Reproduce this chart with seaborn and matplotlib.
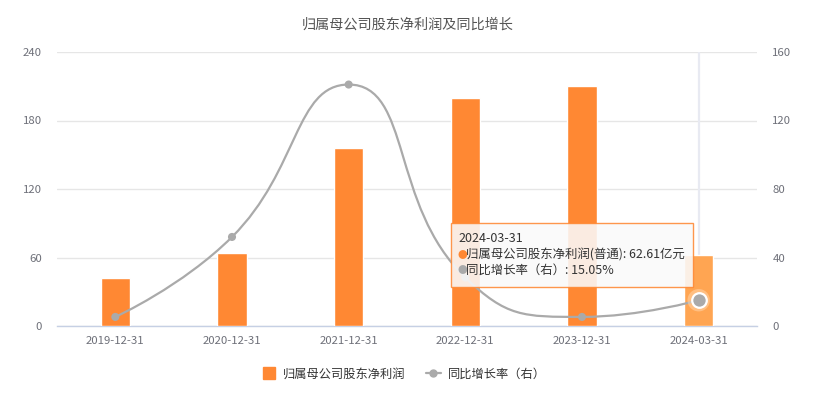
import numpy as np
import pandas as pd
import matplotlib
matplotlib.use('Agg')
import matplotlib.pyplot as plt
import seaborn as sns
from matplotlib.path import Path
from matplotlib.patches import PathPatch, FancyBboxPatch
from matplotlib.lines import Line2D

# datos
fechas = ['2019-12-31', '2020-12-31', '2021-12-31', '2022-12-31', '2023-12-31', '2024-03-31']
beneficio = [42.0, 64.0, 156.0, 200.0, 210.0, 62.61]   # 亿元
crecimiento = [5.3, 52.0, 141.0, 28.3, 5.3, 15.05]      # %
yl_ticks = [0, 60, 120, 180, 240]
yr_ticks = [0, 40, 80, 120, 160]

naranja = '#FF8833'
naranja_hover = '#FFA552'
gris = '#AAAAAA'
texto = '#6E7079'

sns.set_theme(style='white')
plt.rcParams['font.family'] = ['Noto Sans CJK SC', 'DejaVu Sans']
plt.rcParams['axes.unicode_minus'] = False

df = pd.DataFrame({'fecha': fechas, 'beneficio': beneficio, 'crecimiento': crecimiento})
colores = [naranja] * (len(fechas) - 1) + [naranja_hover]

fig = plt.figure(figsize=(8.15, 3.99), dpi=100)
ax = fig.add_axes([57 / 815, 1 - 326 / 399, 700 / 815, 274 / 399])

sns.barplot(data=df, x='fecha', y='beneficio', hue='fecha', palette=colores,
            width=0.25, legend=False, saturation=1, ax=ax, zorder=3)

ax.set_xlim(-0.5, len(fechas) - 0.5)
ax.set_ylim(0, 240)
ax.set_yticks(yl_ticks)
ax.set_xlabel('')
ax.set_ylabel('')
ax.grid(axis='y', color='#E6E6E6', linewidth=1, zorder=0)
ax.set_axisbelow(True)
for s in ['top', 'left', 'right']:
    ax.spines[s].set_visible(False)
ax.spines['bottom'].set_color('#C6D0E4')
ax.spines['bottom'].set_linewidth(1)
ax.tick_params(axis='y', length=0, pad=11, labelsize=8.2, labelcolor=texto)
ax.tick_params(axis='x', which='major', length=0, pad=7, labelsize=8.2, labelcolor=texto)
ax.set_xticks(np.arange(-0.5, len(fechas)), minor=True)
ax.tick_params(axis='x', which='minor', length=5, color='#C6D0E4', width=1)

# linea del tooltip (hover)
ax.axvline(len(fechas) - 1, color='#E8EAF2', linewidth=1.6, zorder=1)

# eje derecho: crecimiento
ax2 = ax.twinx()
ax2.set_ylim(0, 160)
ax2.set_yticks(yr_ticks)
for s in ax2.spines.values():
    s.set_visible(False)
ax2.tick_params(axis='y', length=0, pad=11, labelsize=8.2, labelcolor=texto)
ax2.grid(False)

# curva suavizada como la de echarts (smooth=0.5 con restriccion)
sx, sy = 116.67, 1.7125  # px por unidad
P = np.column_stack([np.arange(len(fechas)) * sx, np.array(crecimiento) * sy])
suave = 0.5
n = len(P)
verts = [tuple(P[0])]
codes = [Path.MOVETO]
cp0 = P[0].copy()
for i in range(1, n):
    x, y = P[i]
    px, py = P[i - 1]
    if i == n - 1:
        cp1 = P[i].copy()
        ncp0 = P[i].copy()
    else:
        nx, ny = P[i + 1]
        vx, vy = nx - px, ny - py
        l0 = np.hypot(x - px, y - py)
        l1 = np.hypot(nx - x, ny - y)
        r = l1 / (l0 + l1)
        ncx, ncy = x + vx * suave * r, y + vy * suave * r
        ncx = max(min(ncx, max(nx, x)), min(nx, x))
        ncy = max(min(ncy, max(ny, y)), min(ny, y))
        vx, vy = ncx - x, ncy - y
        c1x, c1y = x - vx * l0 / l1, y - vy * l0 / l1
        c1x = max(min(c1x, max(px, x)), min(px, x))
        c1y = max(min(c1y, max(py, y)), min(py, y))
        vx, vy = x - c1x, y - c1y
        ncx, ncy = x + vx * l1 / l0, y + vy * l1 / l0
        cp1 = np.array([c1x, c1y])
        ncp0 = np.array([ncx, ncy])
    verts += [tuple(cp0), tuple(cp1), (x, y)]
    codes += [Path.CURVE4] * 3
    cp0 = ncp0
verts = [(vx_ / sx, vy_ / sy) for vx_, vy_ in verts]
ax2.add_patch(PathPatch(Path(verts, codes), facecolor='none', edgecolor=gris,
                        linewidth=1.6, zorder=4))

xs = np.arange(len(fechas))
ys = np.array(crecimiento)
sns.scatterplot(x=xs[:-1], y=ys[:-1], color=gris, s=34, edgecolor='none', ax=ax2, zorder=5)
# punto resaltado (hover)
ax2.scatter([xs[-1]], [ys[-1]], s=260, color='#FFD9B3', alpha=0.5, edgecolor='none', zorder=5)
ax2.scatter([xs[-1]], [ys[-1]], s=110, color=gris, edgecolor='white', linewidth=1.6, zorder=6)

# titulo
fig.text(0.5, 1 - 25 / 399, '归属母公司股东净利润及同比增长', ha='center', va='center',
         fontsize=10.2, color='#555555')

# leyenda
handles = [
    Line2D([], [], marker='s', linestyle='none', color=naranja, markersize=8.6),
    Line2D([], [], marker='o', color=gris, linewidth=1.6, markersize=5),
]
fig.legend(handles, ['归属母公司股东净利润', '同比增长率（右）'], loc='center',
           bbox_to_anchor=(403.5 / 815, 1 - 374 / 399), ncol=2, frameon=False,
           handlelength=1.2, columnspacing=1.7, handletextpad=0.57,
           prop={'size': 8.8}, labelcolor='#333333')

# tooltip
caja = FancyBboxPatch((451 / 815, 1 - 287 / 399), 242 / 815, 64 / 399,
                      boxstyle='square,pad=0', transform=fig.transFigure,
                      facecolor='#FAFAFA', alpha=0.88, edgecolor=naranja, linewidth=1,
                      zorder=10)
fig.patches.append(caja)
fig.text(458 / 815, 1 - 239 / 399, '2024-03-31', fontsize=9, color='#333333',
         va='center', zorder=11)
fig.text(457 / 815, 1 - 255 / 399, '●', fontsize=7, color=naranja, va='center', zorder=11)
fig.text(466 / 815, 1 - 255 / 399, '归属母公司股东净利润(普通): 62.61亿元', fontsize=8.95,
         color='#333333', va='center', zorder=11)
fig.text(457 / 815, 1 - 270 / 399, '●', fontsize=7, color=gris, va='center', zorder=11)
fig.text(466 / 815, 1 - 270 / 399, '同比增长率（右）: 15.05%', fontsize=8.95,
         color='#333333', va='center', zorder=11)

fig.savefig('out.png', dpi=100)
